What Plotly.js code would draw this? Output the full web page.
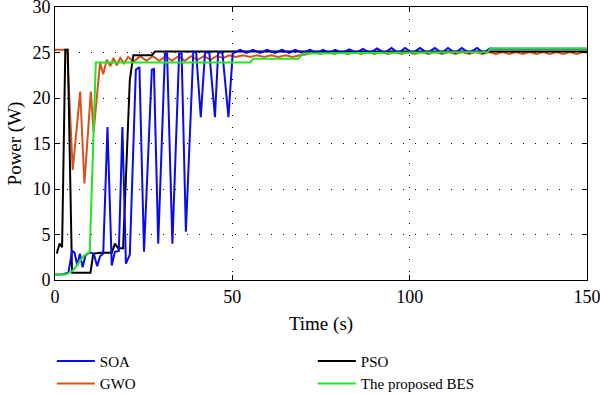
<!DOCTYPE html>
<html>
<head>
<meta charset="utf-8">
<script src="https://cdn.plot.ly/plotly-3.0.1.min.js"></script>
<style>html,body{margin:0;padding:0;background:#fff;}#chart{width:600px;height:394px;}</style>
</head>
<body>
<div id="chart"></div>
<script>
// Time (s) and Power (W)
const soaTime = [0, 2, 3.8, 4.8, 5.5, 6.3, 7.0, 7.8, 8.6, 9.6, 10.3, 11.0, 11.9, 12.7, 13.6, 14.8, 16.0, 16.9, 18.0, 19.0, 20.0, 21.1, 22.8, 23.8, 25.1, 27.3, 27.9, 29.1, 31.0, 31.6, 33.1, 35.0, 35.7, 36.9, 39.0, 39.8, 41.1, 42.3, 43.5, 45.1, 46.0, 47.2, 48.9, 50.1, 52.2, 54.0, 55.8, 57.8, 59.8, 62.0, 64.0, 66.0, 67.7, 69.8, 71.9, 73.8, 75.6, 77.3, 79.0, 81.0, 83.0, 85.0, 86.8, 88.8, 90.8, 92.8, 94.9, 96.8, 98.7, 100.8, 102.9, 105.0, 107.1, 109.0, 110.8, 112.8, 114.7, 116.8, 119.0, 120.8, 122.6, 125, 150];
const soaPower = [0.6, 0.6, 0.8, 3.2, 3.0, 1.6, 2.9, 1.4, 2.7, 3.0, 3.0, 2.8, 1.5, 2.6, 2.9, 16.8, 1.6, 3.1, 3.2, 16.8, 1.8, 2.8, 23.1, 23.4, 3.1, 23.1, 23.2, 4.0, 24.9, 24.9, 4.0, 24.9, 24.9, 5.3, 25.1, 25.0, 17.9, 25.0, 25.0, 17.9, 25.0, 25.0, 17.9, 24.9, 25.3, 24.95, 25.3, 24.95, 25.3, 24.95, 25.3, 24.95, 25.3, 24.95, 25.3, 24.95, 25.3, 24.95, 25.3, 24.95, 25.35, 24.95, 25.4, 24.95, 25.45, 24.95, 25.5, 24.95, 25.5, 24.95, 25.5, 24.95, 25.5, 24.95, 25.5, 24.95, 25.5, 24.95, 25.5, 24.95, 25.45, 25.4, 25.4];

const gwoTime = [0, 3.4, 5.0, 7.1, 8.3, 10.1, 10.9, 12.7, 13.6, 14.6, 15.6, 16.5, 17.4, 18.4, 19.5, 20.6, 22.2, 24.0, 25.8, 27.6, 29.4, 31.2, 33.0, 34.8, 36.6, 38.4, 40.2, 42.0, 43.8, 45.6, 47.4, 49.2, 51, 53, 55, 57, 59, 61, 63, 65, 67, 69, 71.0, 73.0, 74.9, 76.8, 78.7, 80.6, 82.5, 84.4, 86.3, 88.2, 90.1, 92.0, 93.9, 95.8, 97.7, 99.6, 101.5, 103.4, 105.3, 107.2, 109.1, 111.0, 112.9, 114.8, 116.7, 118.6, 120.5, 122.4, 124.3, 126.2, 128.1, 130.0, 131.9, 133.8, 135.7, 137.6, 139.5, 141.4, 143.3, 145.2, 147.1, 149.0, 150];
const gwoPower = [25.3, 25.3, 12.1, 20.7, 10.6, 20.7, 16.3, 23.9, 22.6, 24.2, 23.5, 24.4, 23.6, 24.4, 23.8, 24.5, 24.0, 24.6, 24.1, 24.6, 24.1, 24.6, 24.1, 24.6, 24.1, 24.6, 24.2, 24.6, 24.2, 24.6, 24.4, 24.7, 24.5, 24.7, 24.5, 24.7, 24.5, 24.7, 24.5, 24.7, 24.5, 24.7, 24.8, 25.05, 24.85, 25.05, 24.85, 25.05, 24.85, 25.05, 24.85, 25.05, 24.85, 25.05, 24.85, 25.05, 24.85, 25.05, 24.85, 25.05, 24.85, 25.05, 24.85, 25.05, 24.85, 25.05, 24.85, 25.05, 24.85, 25.05, 24.85, 25.05, 24.85, 25.05, 24.85, 25.05, 24.85, 25.05, 24.85, 25.05, 24.85, 25.05, 24.85, 25.05, 25.0];

const psoTime = [0.5, 1.3, 2.0, 2.9, 3.6, 4.8, 10.0, 10.8, 13.0, 16.0, 16.9, 17.8, 19.2, 20.2, 21.1, 22.1, 27.3, 28.2, 150];
const psoPower = [2.9, 4.0, 3.6, 25.3, 25.3, 0.8, 0.8, 2.9, 3.0, 3.0, 4.0, 3.5, 3.5, 14.3, 22.0, 24.7, 24.7, 25.1, 25.1];

const besTime = [0, 3.0, 5.0, 6.5, 8.0, 9.8, 11.5, 55.0, 55.9, 68.6, 70.0, 122.0, 122.8, 150];
const besPower = [0.6, 0.6, 1.0, 1.8, 2.6, 3.1, 23.9, 23.9, 24.3, 24.3, 24.9, 25.05, 25.45, 25.45];

const xTicks = [0, 50, 100, 150];
const yTicks = [0, 5, 10, 15, 20, 25, 30];

const FONT = "'Liberation Serif', 'Times New Roman', serif";

const traces = [
  {x: gwoTime, y: gwoPower, name: 'GWO', legendrank: 3, mode: 'lines', line: {color: '#d95319', width: 2}},
  {x: psoTime, y: psoPower, name: 'PSO', legendrank: 2, mode: 'lines', line: {color: '#000000', width: 2}},
  {x: soaTime, y: soaPower, name: 'SOA', legendrank: 1, mode: 'lines', line: {color: '#0a0af0', width: 2}},
  {x: besTime, y: besPower, name: 'The proposed BES', legendrank: 4, mode: 'lines', line: {color: '#22e622', width: 2}}
];

const axisCommon = {
  showline: true, linecolor: '#000', linewidth: 1, mirror: 'ticks',
  ticks: 'inside', ticklen: 5, tickcolor: '#000', tickwidth: 1,
  showgrid: true, gridcolor: '#000', gridwidth: 1, griddash: '1px,11px',
  zeroline: false, ticklabeloverflow: 'allow',
  tickfont: {family: FONT, size: 18, color: '#000'}
};

const layout = {
  width: 600, height: 394,
  margin: {l: 55, r: 13, t: 7, b: 114, autoexpand: false},
  paper_bgcolor: '#fff', plot_bgcolor: '#fff',
  font: {family: FONT, color: '#000'},
  xaxis: Object.assign({}, axisCommon, {
    range: [0, 150], tickmode: 'array', tickvals: xTicks,
    title: {text: 'Time (s)', font: {family: FONT, size: 19, color: '#000'}, standoff: 11}
  }),
  yaxis: Object.assign({}, axisCommon, {
    range: [0, 30], tickmode: 'array', tickvals: yTicks,
    title: {text: 'Power (W)', font: {family: FONT, size: 19, color: '#000'}, standoff: 5}
  }),
  showlegend: true,
  legend: {
    orientation: 'h', x: -0.006, xanchor: 'left', y: -0.237, yanchor: 'top',
    entrywidth: 208, entrywidthmode: 'pixels', traceorder: 'normal',
    itemwidth: 38,
    font: {family: FONT, size: 15, color: '#000'},
    bgcolor: 'rgba(0,0,0,0)', tracegroupgap: 0
  }
};

Plotly.newPlot('chart', traces, layout, {displayModeBar: false, staticPlot: true});
</script>
</body>
</html>
